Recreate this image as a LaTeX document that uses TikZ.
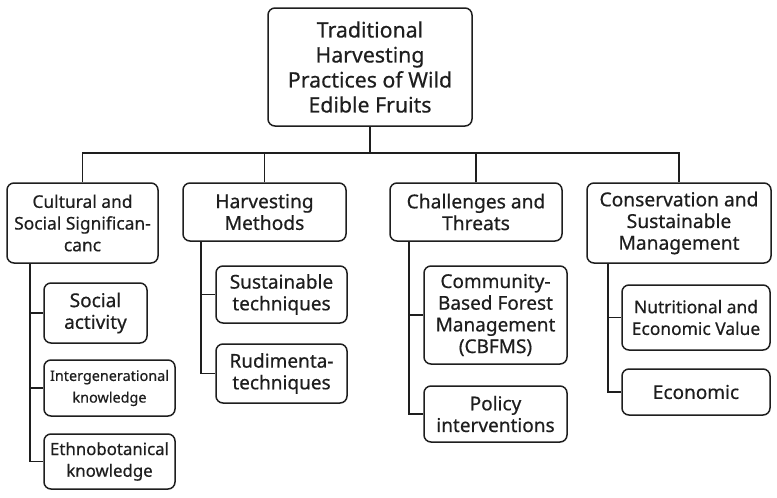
\documentclass[tikz,border=0pt]{standalone}
\usepackage{fontspec}
\setmainfont{Noto Sans}[FakeBold=0.5]
\definecolor{ink}{HTML}{1E1E1E}
\begin{document}
\begin{tikzpicture}[x=1pt,y=-1pt,
  box/.style={draw=ink,line width=1.5pt,rounded corners=7pt,align=center,inner sep=0pt,text=ink},
  ttl/.style={box,font=\fontsize{21.3}{25}\selectfont},
  cat/.style={box,font=\fontsize{19.2}{21.7}\selectfont},
  sub/.style={box,font=\fontsize{19}{21.7}\selectfont},
  link/.style={draw=ink,line width=1.5pt}]
\useasboundingbox[fill=white] (0,0) rectangle (777,498);
\node[ttl,minimum width=204pt,minimum height=118pt] (title) at (370,67) {Traditional\\Harvesting\\Practices of Wild\\Edible Fruits};
\node[cat,minimum width=151pt,minimum height=80pt,font=\fontsize{17.4}{21.7}\selectfont] (cult) at (82.5,223) {Cultural and\\Social Significan-\\canc};
\node[cat,minimum width=163pt,minimum height=58pt] (harv) at (264.5,212) {Harvesting\\Methods};
\node[cat,minimum width=172pt,minimum height=58pt] (chal) at (476,212) {Challenges and\\Threats};
\node[cat,minimum width=184pt,minimum height=80pt] (cons) at (679,223) {Conservation and\\Sustainable\\Management};
\node[sub,minimum width=103pt,minimum height=60pt] (soc) at (95.5,313) {Social\\activity};
\node[sub,minimum width=131pt,minimum height=56pt,font=\fontsize{14.4}{21.7}\selectfont] (inter) at (109.5,388) {Intergenerational\\knowledge};
\node[sub,minimum width=131pt,minimum height=55pt,font=\fontsize{16.8}{21.7}\selectfont] (ethno) at (109.5,461.5) {Ethnobotanical\\knowledge};
\node[sub,minimum width=131pt,minimum height=57pt] (sust) at (281.5,294.5) {Sustainable\\techniques};
\node[sub,minimum width=131pt,minimum height=59pt] (rud) at (281.5,373.5) {Rudimenta-\\techniques};
\node[sub,minimum width=143pt,minimum height=98pt] (comm) at (495.5,315) {Community-\\Based Forest\\Management\\(CBFMS)};
\node[sub,minimum width=143pt,minimum height=56pt] (pol) at (495.5,414) {Policy\\interventions};
\node[sub,minimum width=148pt,minimum height=65pt,font=\fontsize{17.4}{21.7}\selectfont] (nutr) at (696,317.5) {Nutritional and\\Economic Value};
\node[sub,minimum width=148pt,minimum height=46pt] (econ) at (696,392) {Economic};
% top bus
\coordinate (busL) at (cult.north |- 0,153);
\coordinate (busR) at (cons.north |- 0,153);
\draw[link] (title.south) -- (title.south |- busL);
\draw[link] (cult.north) -- (busL) -- (busR) -- (cons.north);
\draw[link] (harv.north) -- (harv.north |- busL);
\draw[link] (chal.north) -- (chal.north |- busL);
% trunks
\coordinate (tc) at (30,0);
\coordinate (th) at (201,0);
\coordinate (tg) at (409,0);
\coordinate (tn) at (608,0);
\draw[link] (tc |- cult.south) |- (ethno.west);
\draw[link] (tc |- soc.west) -- (soc.west);
\draw[link] (tc |- inter.west) -- (inter.west);
\draw[link] (th |- harv.south) |- (rud.west);
\draw[link] (th |- sust.west) -- (sust.west);
\draw[link] (tg |- chal.south) |- (pol.west);
\draw[link] (tg |- comm.west) -- (comm.west);
\draw[link] (tn |- cons.south) |- (econ.west);
\draw[link] (tn |- nutr.west) -- (nutr.west);
\end{tikzpicture}
\end{document}
